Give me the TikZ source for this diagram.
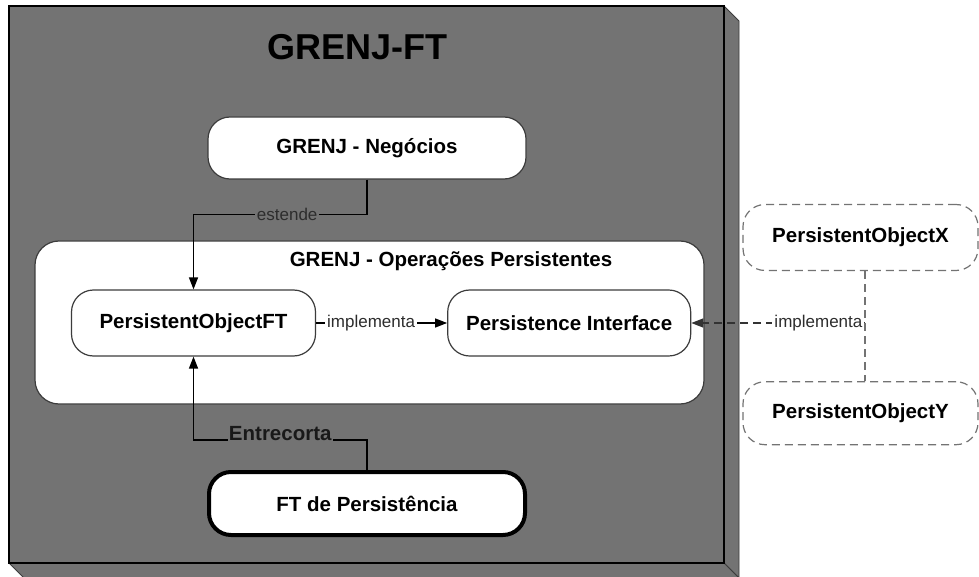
\documentclass[tikz,border=0pt]{standalone}
\usepackage{fontspec}
\setmainfont{Liberation Sans}
\usetikzlibrary{arrows.meta,positioning}
\definecolor{mgray}{RGB}{115,115,115}
\definecolor{mdark}{RGB}{60,60,60}
\definecolor{mtext}{RGB}{45,45,45}

\begin{document}
\begin{tikzpicture}[
    x=1pt, y=-1pt,
    block/.style={rectangle, rounded corners=22pt, draw=mdark, fill=white, line width=1.2pt, minimum width=244pt, minimum height=66pt, font=\fontsize{20.5}{24}\selectfont\bfseries},
    block_ext/.style={block, draw=black!55, dash pattern=on 8pt off 5pt, minimum width=235pt},
    block_main/.style={block, draw=black, line width=4pt, minimum width=316pt, minimum height=63pt},
    group/.style={rectangle, rounded corners=24pt, draw=mdark, fill=white, line width=1.2pt},
    lbl/.style={font=\fontsize{17}{20}\selectfont, text=mtext, inner sep=2pt},
    arrow_uses/.style={-{Triangle[length=12pt,width=9pt]}, line width=1.3pt, rounded corners=0pt},
    arrow_ext/.style={arrow_uses, black!80, dash pattern=on 8pt off 5pt},
    ]

\useasboundingbox (0,0) rectangle (979,577);

% the 3d frame
\filldraw[fill=mgray, draw=mdark, line width=0.8pt] (724,6) -- (739,21) -- (739,578) -- (724,563) -- cycle;
\filldraw[fill=mgray, draw=mdark, line width=0.8pt] (9,563) -- (724,563) -- (739,578) -- (24,578) -- cycle;
\filldraw[fill=mgray, draw=black, line width=2pt] (9,6) rectangle (724,563);

\node[font=\fontsize{36}{40}\selectfont\bfseries] (title) at (357,47) {GRENJ-FT};

\node[block, minimum width=318pt, minimum height=62pt] (neg) at (367,148) {GRENJ - Negócios};
\node[group, minimum width=669pt, minimum height=163pt] (ops) at (369.5,322.5) {};
\node[font=\fontsize{20.5}{24}\selectfont\bfseries] (opstitle) at (451,261) {GRENJ - Operações Persistentes};
\node[block] (pof) at (193.5,323) {PersistentObjectFT};
\node[block, minimum width=243pt, right=131pt of pof] (pint) {Persistence Interface};
\node[block_main] (ftp) at (367,503.5) {FT de Persistência};

\node[block_ext] (pox) at (860.5,237.5) {PersistentObjectX};
\node[block_ext, minimum height=63pt, below=110pt of pox] (poy) {PersistentObjectY};
\coordinate (join) at (865,323);

\draw[arrow_uses] (neg.south) -- ++(0,35) -| node[lbl, pos=0.23, fill=mgray] {estende} (pof.north);
\draw[arrow_uses] (pof) -- node[lbl, pos=0.42, fill=white] {implementa} (pint);
\draw[arrow_uses] (ftp.north) -- ++(0,-30) -| node[lbl, pos=0.25, fill=mgray, anchor=base, inner sep=1pt, text=black!90, font=\fontsize{20.5}{24}\selectfont\bfseries] {Entrecorta} (pof.south);

\draw[arrow_ext] (join) -- node[lbl, pos=0, anchor=east, fill=white] {implementa} (pint.east);
\draw[black!55, line width=1.3pt, dash pattern=on 8pt off 5pt] (pox.south -| join) -- (poy.north -| join);

\end{tikzpicture}
\end{document}
